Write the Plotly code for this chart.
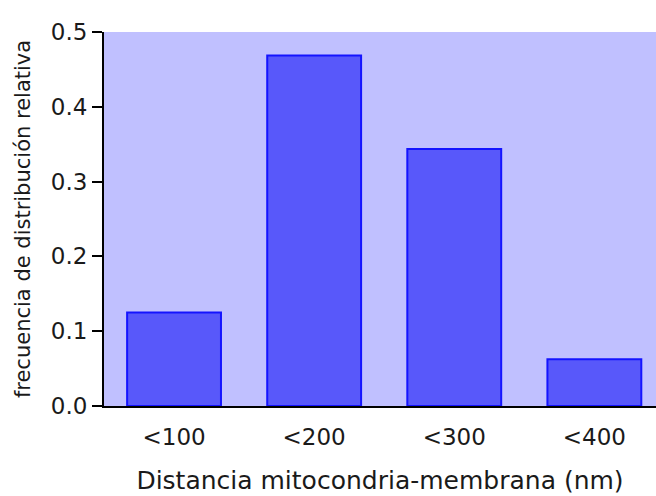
import plotly.graph_objects as go

# Relative frequency of mitochondria-membrane distances (n = 32)
categories = ["<100", "<200", "<300", "<400"]
frequencies = [0.125, 0.46875, 0.34375, 0.0625]
y_ticks = [0.0, 0.1, 0.2, 0.3, 0.4, 0.5]
y_tick_labels = ["0.0", "0.1", "0.2", "0.3", "0.4", "0.5"]

FONT = "DejaVu Sans"

fig = go.Figure(
    go.Bar(
        x=list(range(len(categories))),
        y=frequencies,
        width=0.67,
        marker=dict(color="#5858fa", line=dict(color="#1414ff", width=2)),
    )
)

fig.update_layout(
    width=656,
    height=496,
    margin=dict(l=104, r=0, t=32, b=90),
    paper_bgcolor="white",
    plot_bgcolor="#c0c0ff",
    showlegend=False,
    font=dict(family=FONT, color="#1a1a1a"),
    xaxis=dict(
        range=[-0.5, 3.44],
        tickmode="array",
        tickvals=list(range(len(categories))),
        ticktext=categories,
        tickfont=dict(size=23, family=FONT),
        ticks="",
        ticklabelstandoff=9,
        showline=True,
        linecolor="black",
        linewidth=2,
        showgrid=False,
        zeroline=False,
        title=dict(
            text="Distancia mitocondria-membrana (nm)",
            font=dict(size=25, family=FONT),
            standoff=23,
        ),
    ),
    yaxis=dict(
        range=[0, 0.5],
        tickmode="array",
        tickvals=y_ticks,
        ticktext=y_tick_labels,
        tickfont=dict(size=23, family=FONT),
        ticks="outside",
        ticklen=10,
        tickwidth=2,
        tickcolor="black",
        showline=True,
        linecolor="black",
        linewidth=2,
        showgrid=False,
        zeroline=False,
        title=dict(
            text="frecuencia de distribución relativa",
            font=dict(size=21, family=FONT),
            standoff=14,
        ),
    ),
)

fig.write_html("out.html")
